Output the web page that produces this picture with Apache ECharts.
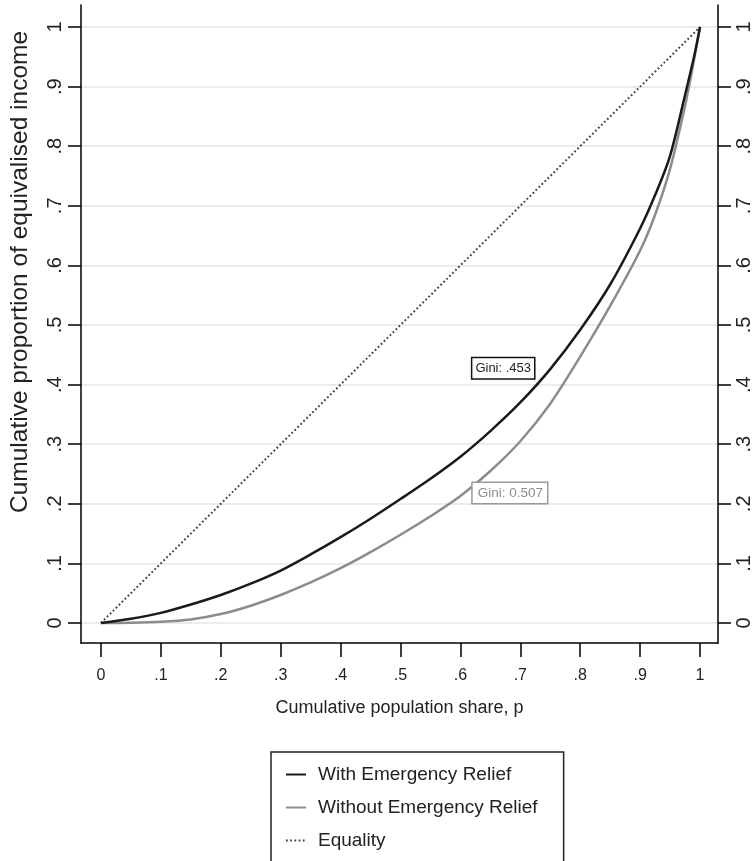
<!DOCTYPE html>
<html><head><meta charset="utf-8">
<script src="https://cdn.jsdelivr.net/npm/echarts@6/dist/echarts.min.js"></script>
<style>html,body{margin:0;padding:0;background:#fff}#c{width:756px;height:861px}</style>
</head><body><div id="c"></div>
<script>
// Cumulative population share p
const pShare = [0, 0.05, 0.1, 0.15, 0.2, 0.25, 0.3, 0.35, 0.4, 0.45, 0.5, 0.55, 0.6, 0.65, 0.7, 0.75, 0.8, 0.85, 0.9, 0.925, 0.95, 0.975, 0.99, 1];
// Lorenz ordinates
const withRelief = [0, 0.007, 0.017, 0.031, 0.047, 0.066, 0.088, 0.115, 0.144, 0.175, 0.208, 0.242, 0.279, 0.322, 0.370, 0.426, 0.492, 0.568, 0.662, 0.718, 0.784, 0.886, 0.950, 1];
const withoutRelief = [0, 0.0004, 0.002, 0.006, 0.015, 0.029, 0.047, 0.068, 0.092, 0.119, 0.148, 0.179, 0.213, 0.255, 0.305, 0.368, 0.447, 0.532, 0.625, 0.685, 0.762, 0.868, 0.945, 1];
const equalityP = [0, 1];
const equalityL = [0, 1];
const tickValues = [0, 0.1, 0.2, 0.3, 0.4, 0.5, 0.6, 0.7, 0.8, 0.9, 1];
const tickLabels = ['0', '.1', '.2', '.3', '.4', '.5', '.6', '.7', '.8', '.9', '1'];
const seriesNames = ['With Emergency Relief', 'Without Emergency Relief', 'Equality'];
const giniLabels = ['Gini: .453', 'Gini: 0.507'];
const xTitle = 'Cumulative population share, p';
const yTitle = 'Cumulative proportion of equivalised income';

const FONT = "'Liberation Sans', Arial, sans-serif";
const fmt = v => { const i = tickValues.findIndex(t => Math.abs(t - v) < 1e-9); return i >= 0 ? tickLabels[i] : ''; };
const pairs = (xs, ys) => xs.map((x, i) => [x, ys[i]]);

const yAxisBase = {
  type: 'value', min: -0.0336, max: 1.037,
  axisLine: { show: true, onZero: false, lineStyle: { color: '#000', width: 1.5 } },
  axisTick: { show: true, length: 13, customValues: tickValues, lineStyle: { color: '#000', width: 1.5 } },
  axisLabel: { customValues: tickValues, formatter: fmt, rotate: 90, margin: 16, color: '#222', fontFamily: FONT, fontSize: 20 },
  splitLine: { show: false }
};

const chart = echarts.init(document.getElementById('c'), null, { renderer: 'canvas' });
chart.setOption({
  animation: false,
  backgroundColor: '#fff',
  grid: { left: 80, right: 38, top: 5, bottom: 218, containLabel: false },
  xAxis: {
    type: 'value', min: -0.0333, max: 1.03,
    name: xTitle, nameLocation: 'middle', nameGap: 56,
    nameTextStyle: { color: '#222', fontFamily: FONT, fontSize: 18 },
    axisLine: { show: true, onZero: false, lineStyle: { color: '#000', width: 1.5 } },
    axisTick: { show: true, length: 14, customValues: tickValues, lineStyle: { color: '#000', width: 1.5 } },
    axisLabel: { customValues: tickValues, formatter: fmt, margin: 25, color: '#222', fontFamily: FONT, fontSize: 16 },
    splitLine: { show: false }
  },
  yAxis: [
    Object.assign({}, yAxisBase, {
      position: 'left',
      name: yTitle, nameLocation: 'middle', nameGap: 48,
      nameTextStyle: { color: '#222', fontFamily: FONT, fontSize: 24.5, padding: [0, 0, 0, 104] },
      splitLine: { show: true, lineStyle: { color: '#ececec', width: 2 } }
    }),
    Object.assign({}, yAxisBase, { position: 'right' })
  ],
  legend: {
    orient: 'vertical', left: 271, top: 752, height: 200,
    data: seriesNames,
    backgroundColor: '#fff',
    borderColor: '#222', borderWidth: 1.5,
    padding: [13, 26, 40, 14],
    itemWidth: 20, itemHeight: 14, itemGap: 14,
    itemStyle: { opacity: 0 },
    textStyle: { color: '#222', fontFamily: FONT, fontSize: 19, padding: [0, 0, 0, 7] }
  },
  series: [
    {
      name: seriesNames[2], type: 'line', data: pairs(equalityP, equalityL),
      showSymbol: false, symbol: 'none', z: 1,
      itemStyle: { color: '#444' },
      lineStyle: { color: '#444', width: 2, type: [1.8, 2.4] }
    },
    {
      name: seriesNames[1], type: 'line', data: pairs(pShare, withoutRelief),
      showSymbol: false, symbol: 'none', smooth: 0.3, z: 2,
      itemStyle: { color: '#8c8c8c' },
      lineStyle: { color: '#8c8c8c', width: 2.5 },
      markPoint: {
        symbol: 'circle', symbolSize: 0, silent: true,
        data: [{ coord: [0.6205, 0.218], value: giniLabels[1] }],
        label: {
          show: true, position: 'right', distance: 0, formatter: giniLabels[1],
          color: '#8c8c8c', fontFamily: FONT, fontSize: 13.5, backgroundColor: '#fff',
          borderColor: '#999', borderWidth: 1.5, padding: [3, 4, 3, 5]
        }
      }
    },
    {
      name: seriesNames[0], type: 'line', data: pairs(pShare, withRelief),
      showSymbol: false, symbol: 'none', smooth: 0.3, z: 3,
      itemStyle: { color: '#1a1a1a' },
      lineStyle: { color: '#1a1a1a', width: 2.5 },
      markPoint: {
        symbol: 'circle', symbolSize: 0, silent: true,
        data: [{ coord: [0.62, 0.4274], value: giniLabels[0] }],
        label: {
          show: true, position: 'right', distance: 0, formatter: giniLabels[0],
          color: '#222', fontFamily: FONT, fontSize: 13, backgroundColor: '#fff',
          borderColor: '#111', borderWidth: 1.5, padding: [4, 3, 3, 3]
        }
      }
    }
  ]
});
</script>
</body></html>
